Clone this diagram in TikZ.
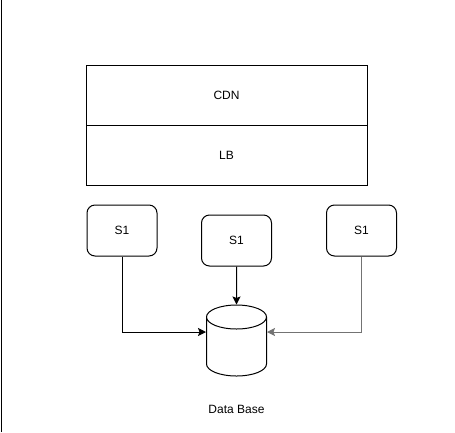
\documentclass[tikz,border=0pt]{standalone}
\usepackage{fontspec}
\setmainfont{Liberation Sans}
\usetikzlibrary{shapes.geometric, arrows, arrows.meta}
\tikzstyle{layer} = [rectangle, minimum width=281pt, minimum height=60pt, text centered, draw=black, line width=1pt, font=\fontsize{12}{14}\selectfont]
\tikzstyle{server} = [rectangle, rounded corners=8pt, minimum width=70pt, minimum height=51pt, text centered, draw=black, line width=1pt, font=\fontsize{12}{14}\selectfont]
\tikzstyle{database} = [cylinder, shape border rotate=90, aspect=3.6, minimum width=60pt, minimum height=71pt, draw=black, line width=1pt]
\tikzstyle{caption} = [font=\fontsize{12}{14}\selectfont]
\tikzstyle{arrow} = [line width=1pt,-{Stealth[length=8pt,width=8pt,inset=1.5pt]}]

\begin{document}
\begin{tikzpicture}[x=1pt, y=-1pt, node distance=60pt]
\useasboundingbox (0,0) rectangle (455,432);
\draw [line width=1pt] (1.5,0) -- (1.5,432);

\node (cdn) [layer] at (226.5,95.5) {CDN};
\node (lb) [layer, below of=cdn] {LB};
\node (s1a) [server] at (122,230.5) {S1};
\node (s1b) [server, xshift=54.5pt, yshift=-10pt, right of=s1a] {S1};
\node (s1c) [server, xshift=65pt, yshift=10pt, right of=s1b] {S1};
\node (db) [database, yshift=-49pt, below of=s1b] {};
\node (dblabel) [caption, yshift=0.5pt, below of=db] {Data Base};

\draw [arrow] (s1a.south) |- ([yshift=17.5pt]db.west);
\draw [arrow] (s1b) -- (db);
\draw [arrow, draw=black!55] (s1c.south) |- ([yshift=17.5pt]db.east);

\end{tikzpicture}
\end{document}
